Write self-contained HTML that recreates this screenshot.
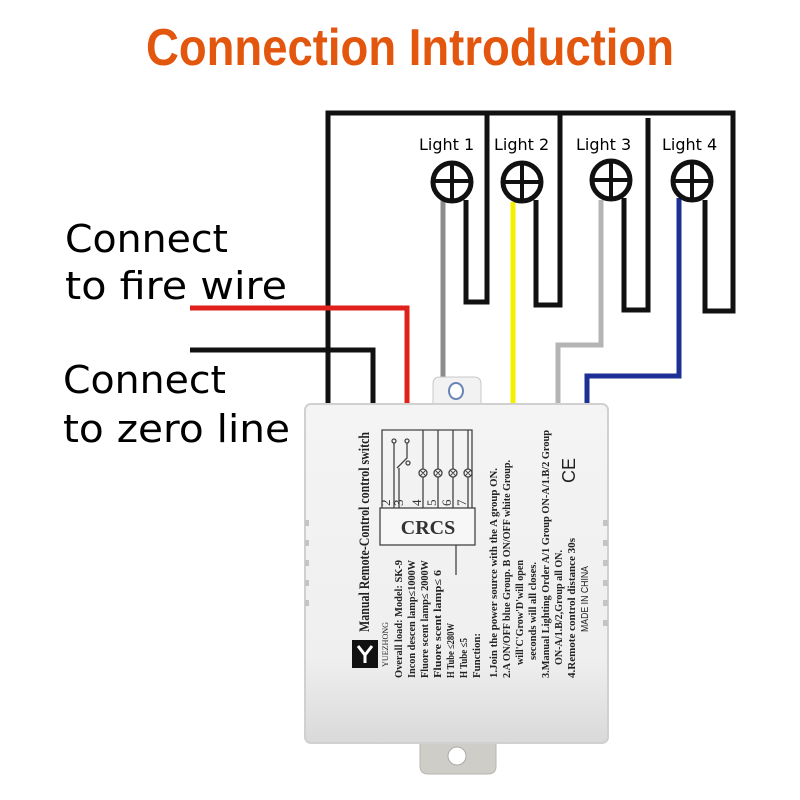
<!DOCTYPE html>
<html><head><meta charset="utf-8"><style>html,body{margin:0;padding:0;background:#fff;}svg{display:block}</style></head>
<body>
<svg width="800" height="800" viewBox="0 0 800 800" xmlns="http://www.w3.org/2000/svg">
<rect width="800" height="800" fill="#fff"/>
<text x="410" y="65" text-anchor="middle" font-family="Liberation Sans, sans-serif" font-weight="bold" font-size="52" fill="#e2560e" textLength="528" lengthAdjust="spacingAndGlyphs">Connection Introduction</text>

<g font-family="DejaVu Sans, sans-serif" font-size="38" fill="#000">
<text x="65" y="252" textLength="163" lengthAdjust="spacingAndGlyphs">Connect</text>
<text x="65" y="299" textLength="222" lengthAdjust="spacingAndGlyphs">to fire wire</text>
<text x="63" y="393" textLength="163" lengthAdjust="spacingAndGlyphs">Connect</text>
<text x="63" y="442" textLength="227" lengthAdjust="spacingAndGlyphs">to zero line</text>
</g>

<g fill="none" stroke-width="5" stroke-linejoin="miter">
<path d="M328 405 V113 H733 V311 H705 V200" stroke="#111"/>
<path d="M487 113 V302 H466 V200" stroke="#111"/>
<path d="M560 113 V305 H536 V200" stroke="#111"/>
<path d="M648 118 V310 H624 V198" stroke="#111"/>
<path d="M190 308 H407 V405" stroke="#e0201b"/>
<path d="M190 350 H373 V405" stroke="#111"/>
<path d="M443 200 V382" stroke="#8c8c8c"/>
<path d="M513 202 V405" stroke="#f5ef00"/>
<path d="M601 200 V345 H558 V405" stroke="#b4b4b4"/>
<path d="M679 198 V376 H587 V405" stroke="#1d2f94"/>
</g>

<g font-family="DejaVu Sans, sans-serif" font-size="16" fill="#000">
<text x="419" y="150">Light 1</text>
<text x="494" y="150">Light 2</text>
<text x="576" y="150">Light 3</text>
<text x="662" y="150">Light 4</text>
</g>
<g fill="#fff" stroke="#111" stroke-width="5">
<circle cx="452" cy="182" r="19"/>
<circle cx="522" cy="182" r="19"/>
<circle cx="611" cy="180" r="19"/>
<circle cx="692" cy="181" r="19"/>
</g>
<g stroke="#111" stroke-width="4">
<path d="M452 165 V199 M435 181 H469"/>
<path d="M522 165 V199 M505 182 H539"/>
<path d="M611 163 V197 M594 180 H628"/>
<path d="M692 164 V198 M675 181 H709"/>
</g>

<path d="M433 407 V384 Q433 377 440 377 H474 Q481 377 481 384 V407 Z" fill="#f2f2f2" stroke="#c8c8c8"/>
<ellipse cx="456" cy="391" rx="7" ry="8" fill="#fff" stroke="#6a86b5" stroke-width="2"/>
<path d="M420 740 V766 Q420 774 428 774 H488 Q496 774 496 766 V740 Z" fill="#cfcdc8" stroke="#b8b6b0"/>
<circle cx="457" cy="756" r="9" fill="#fff" stroke="#aaa"/>
<defs><linearGradient id="g" x1="0" y1="0" x2="0" y2="1"><stop offset="0" stop-color="#f4f4f4"/><stop offset="0.75" stop-color="#efefef"/><stop offset="1" stop-color="#d9d9d9"/></linearGradient></defs>
<rect x="305" y="404" width="303" height="339" rx="6" fill="url(#g)" stroke="#d0d0d0" stroke-width="2"/>
<g fill="#c4c4c4">
<rect x="305" y="520" width="4" height="6"/><rect x="305" y="540" width="4" height="6"/><rect x="305" y="560" width="4" height="6"/><rect x="305" y="580" width="4" height="6"/><rect x="305" y="600" width="4" height="6"/>
<rect x="603" y="520" width="5" height="6"/><rect x="603" y="540" width="5" height="6"/><rect x="603" y="560" width="5" height="6"/><rect x="603" y="580" width="5" height="6"/><rect x="603" y="600" width="5" height="6"/><rect x="603" y="620" width="5" height="6"/>
</g>

<g fill="none" stroke="#444" stroke-width="1.3">
<rect x="380" y="508" width="95" height="37" fill="#f7f7f7"/>
<path d="M382 508 V430 H472 V508 M423 430 V508 M438 430 V508 M453 430 V508 M468 430 V508"/>
<path d="M394 443 V508 M407 443 V458 L397 468 M399 468 V508"/>
<circle cx="394" cy="441" r="2"/><circle cx="407" cy="441" r="2"/><circle cx="408" cy="463" r="2"/>
<circle cx="423" cy="473" r="4" fill="#f4f4f4"/><circle cx="438" cy="473" r="4" fill="#f4f4f4"/><circle cx="453" cy="473" r="4" fill="#f4f4f4"/><circle cx="468" cy="473" r="4" fill="#f4f4f4"/>
<path d="M420 470 l6 6 m0 -6 l-6 6 M435 470 l6 6 m0 -6 l-6 6 M450 470 l6 6 m0 -6 l-6 6 M465 470 l6 6 m0 -6 l-6 6" stroke-width="1"/>
<path d="M456 545 V575"/>
</g>
<text x="428" y="534" text-anchor="middle" font-family="Liberation Serif, serif" font-weight="bold" font-size="20" fill="#333">CRCS</text>
<g font-family="Liberation Serif, serif" font-size="13" fill="#333">
<text transform="translate(390,506) rotate(-90)">2</text>
<text transform="translate(403,506) rotate(-90)">3</text>
<text transform="translate(421,506) rotate(-90)">4</text>
<text transform="translate(436,506) rotate(-90)">5</text>
<text transform="translate(451,506) rotate(-90)">6</text>
<text transform="translate(466,506) rotate(-90)">7</text>
</g>

<rect x="352" y="640" width="26" height="28" fill="#111"/>
<path d="M358 646 L365 655 L372 646 M365 655 V663" stroke="#fff" stroke-width="3" fill="none"/>

<g font-family="Liberation Serif, serif" fill="#222" font-weight="bold">
<text transform="translate(369,632) rotate(-90)" font-size="15" textLength="200" lengthAdjust="spacingAndGlyphs">Manual Remote-Control control switch</text>
<text transform="translate(388,667) rotate(-90)" font-size="8" font-weight="normal" textLength="45" lengthAdjust="spacingAndGlyphs">YUEZHONG</text>
<g font-size="10" font-weight="bold">
<text transform="translate(402,678) rotate(-90)" textLength="118" lengthAdjust="spacingAndGlyphs">Overall load: Model: SK-9</text>
<text transform="translate(415,678) rotate(-90)" textLength="118" lengthAdjust="spacingAndGlyphs">Incon descen lamp≤1000W</text>
<text transform="translate(428,678) rotate(-90)" textLength="118" lengthAdjust="spacingAndGlyphs">Fluore scent lamp≤ 2000W</text>
<text transform="translate(441,678) rotate(-90)" textLength="108" lengthAdjust="spacingAndGlyphs">Fluore scent lamp≤ 6</text>
<text transform="translate(454,678) rotate(-90)" textLength="55" lengthAdjust="spacingAndGlyphs">H Tube ≤280W</text>
<text transform="translate(467,678) rotate(-90)" textLength="40" lengthAdjust="spacingAndGlyphs">H Tube ≤5</text>
<text transform="translate(480,678) rotate(-90)" textLength="45" lengthAdjust="spacingAndGlyphs">Function:</text>
<text transform="translate(497,678) rotate(-90)" textLength="210" lengthAdjust="spacingAndGlyphs">1.Join the power source with the A group ON.</text>
<text transform="translate(510,678) rotate(-90)" textLength="218" lengthAdjust="spacingAndGlyphs">2.A ON/OFF blue Group. B ON/OFF white Group.</text>
<text transform="translate(523,665) rotate(-90)" textLength="105" lengthAdjust="spacingAndGlyphs">will'C'Grow'D'will open</text>
<text transform="translate(536,660) rotate(-90)" textLength="98" lengthAdjust="spacingAndGlyphs">seconds will all closes.</text>
<text transform="translate(549,678) rotate(-90)" textLength="248" lengthAdjust="spacingAndGlyphs">3.Manual Lighting Order A/1 Group ON-A/1.B/2 Group</text>
<text transform="translate(562,665) rotate(-90)" textLength="115" lengthAdjust="spacingAndGlyphs">ON-A/1.B/2,Group all ON.</text>
<text transform="translate(575,678) rotate(-90)" textLength="140" lengthAdjust="spacingAndGlyphs">4.Remote control distance 30s</text>
</g>
<text transform="translate(588,632) rotate(-90)" font-family="Liberation Sans, sans-serif" font-weight="normal" font-size="10" textLength="66" lengthAdjust="spacingAndGlyphs">MADE IN CHINA</text>
</g>
<text transform="translate(575,483) rotate(-90)" font-family="Liberation Sans, sans-serif" font-size="18" fill="#222">CE</text>
</svg>
</body></html>
